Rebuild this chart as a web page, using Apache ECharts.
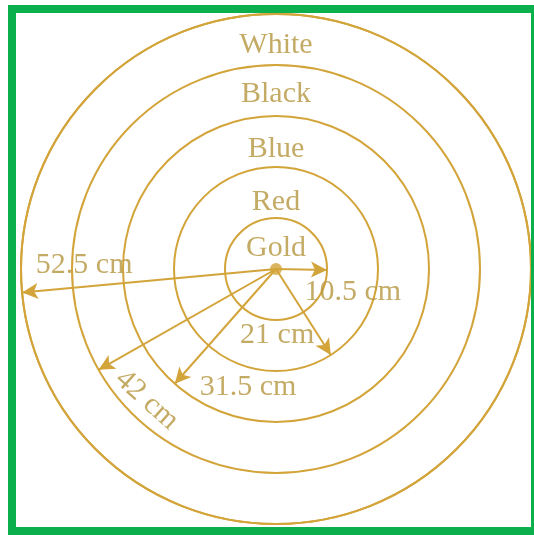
<!DOCTYPE html>
<html>
<head>
<meta charset="utf-8">
<style>
  html, body { margin: 0; padding: 0; background: #fff; }
  #main { width: 534px; height: 535px; }
</style>
<script src="https://cdn.jsdelivr.net/npm/echarts@6/dist/echarts.min.js"></script>
</head>
<body>
<div id="main"></div>
<script>
// ring names, inner to outer
const ringNames = ['Gold', 'Red', 'Blue', 'Black', 'White']
// ring outer radius (cm)
const radii = [10.5, 21, 31.5, 42, 52.5]
// arrows: radius (cm) and direction (deg, counter-clockwise from east)
const arrowRadius = [52.5, 10.5, 21, 31.5, 42]
const arrowAngle = [185.3, 359, 302.5, 228.6, 209.6]
const arrowText = ['52.5 cm', '10.5 cm', '21 cm', '31.5 cm', '42 cm']

// where the texts sit (polar: radius cm, angle deg)
const ringLabelR = [4.4, 13.8, 24.7, 36.0, 46.1]
const arrowLabelR = [39.5, 16.5, 13.6, 25.0, 37.9]
const arrowLabelA = [178.8, 343.4, 271, 256.7, 225.4]
const arrowLabelRotate = [0, 0, 0, 0, -42]

const lineColor = '#d2a43a'
const textColor = '#b5963e'
const font = 'Liberation Serif'

const chart = echarts.init(document.getElementById('main'))

const arrowSeries = arrowRadius.map((r, i) => ({
  type: 'line',
  coordinateSystem: 'polar',
  silent: true,
  symbol: 'arrow',
  showSymbol: true,
  showAllSymbol: true,
  lineStyle: { color: lineColor, width: 2 },
  itemStyle: { color: lineColor },
  data: [
    { value: [0, arrowAngle[i]], symbolSize: 0 },
    { value: [r, arrowAngle[i]], symbolSize: [12, 16], symbolRotate: arrowAngle[i] - 90 },
  ],
  z: 3,
}))

const option = {
  backgroundColor: '#fff',
  animation: false,
  polar: {
    center: [276, 269],
    radius: 255,
  },
  angleAxis: {
    type: 'value',
    min: 0,
    max: 360,
    startAngle: 0,
    clockwise: false,
    axisLine: { show: true, lineStyle: { color: lineColor, width: 2 } },
    axisTick: { show: false },
    axisLabel: { show: false },
    splitLine: { show: false },
  },
  radiusAxis: {
    type: 'value',
    min: 0,
    max: radii[radii.length - 1],
    interval: radii[0],
    axisLine: { show: false },
    axisTick: { show: false },
    axisLabel: { show: false },
    splitLine: { show: true, lineStyle: { color: lineColor, width: 2 } },
  },
  graphic: [
    {
      type: 'rect',
      shape: { x: 12, y: 9, width: 523, height: 522 },
      style: { fill: 'none', stroke: '#0bb04c', lineWidth: 8 },
      z: 10,
    },
  ],
  series: [
    ...arrowSeries,
    {
      // center dot
      type: 'scatter',
      coordinateSystem: 'polar',
      silent: true,
      symbolSize: 12,
      itemStyle: { color: lineColor },
      data: [[0, 0]],
      z: 4,
    },
    {
      // ring names
      type: 'scatter',
      coordinateSystem: 'polar',
      silent: true,
      symbolSize: 0,
      label: {
        show: true,
        position: 'inside',
        formatter: (p) => p.name,
        color: textColor,
        fontFamily: font,
        fontSize: 30,
      },
      data: ringNames.map((n, i) => ({ name: n, value: [ringLabelR[i], 90] })),
      z: 5,
    },
    {
      // measurement texts
      type: 'scatter',
      coordinateSystem: 'polar',
      silent: true,
      symbolSize: 0,
      label: {
        show: true,
        position: 'inside',
        formatter: (p) => p.name,
        color: textColor,
        fontFamily: font,
        fontSize: 30,
      },
      data: arrowText.map((t, i) => ({
        name: t,
        value: [arrowLabelR[i], arrowLabelA[i]],
        label: { rotate: arrowLabelRotate[i] },
      })),
      z: 5,
    },
  ],
}

chart.setOption(option)
</script>
</body>
</html>
